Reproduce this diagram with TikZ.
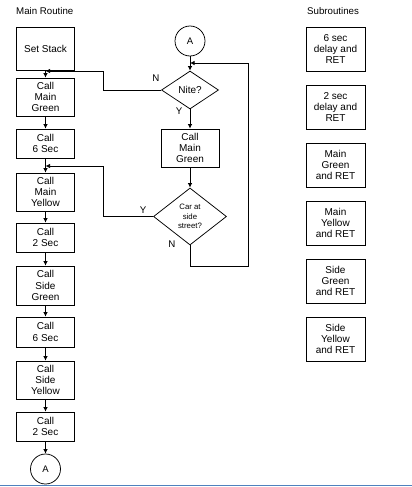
\documentclass[tikz,border=0pt]{standalone}
\usepackage{fontspec}
\setmainfont{Liberation Sans}
\usetikzlibrary{shapes.geometric,arrows.meta}
\definecolor{rule}{RGB}{79,129,189}
\begin{document}
\begin{tikzpicture}[x=1pt,y=-1pt,
  box/.style={draw,line width=0.75pt,minimum width=58pt,inner sep=0pt,align=center,font=\fontsize{10}{11.3}\selectfont},
  conn/.style={circle,draw,line width=0.75pt,minimum size=30pt,inner sep=0pt,font=\fontsize{9.5}{11}\selectfont},
  dec/.style={diamond,draw,line width=0.75pt,inner sep=0pt,align=center},
  arr/.style={line width=0.75pt,-{Latex[length=4.5pt,width=4.5pt]}},
  lbl/.style={font=\fontsize{9.7}{11}\selectfont,inner sep=0pt},
]
\useasboundingbox (0,0) rectangle (412,487);
% titles
\node[lbl,anchor=west] (t1) at (16,11) {Main Routine};
\node[lbl,anchor=west] (t2) at (307,11) {Subroutines};
% main routine column
\node[box,minimum height=43pt] (ss) at (45.5,48.5) {Set Stack};
\node[box,minimum height=38pt] (cmg) at (45.5,97) {Call\\Main\\Green};
\node[box,minimum height=29pt] (c6a) at (45.5,143.5) {Call\\6 Sec};
\node[box,minimum height=38pt] (cmy) at (45.5,192) {Call\\Main\\Yellow};
\node[box,minimum height=29pt] (c2a) at (45.5,237.5) {Call\\2 Sec};
\node[box,minimum height=39pt] (csg) at (45.5,285.5) {Call\\Side\\Green};
\node[box,minimum height=30pt] (c6b) at (45.5,332) {Call\\6 Sec};
\node[box,minimum height=38pt] (csy) at (45.5,380) {Call\\Side\\Yellow};
\node[box,minimum height=29pt] (c2b) at (45.5,426.5) {Call\\2 Sec};
\node[conn] (A1) at (45.5,469) {A};
\draw[arr] (ss) -- (cmg);
\draw[arr] (cmg) -- (c6a);
\draw[arr] (c6a) -- (cmy);
\draw[arr] (cmy) -- (c2a);
\draw[arr] (c2a) -- (csg);
\draw[arr] (csg) -- (c6b);
\draw[arr] (c6b) -- (csy);
\draw[arr] (csy) -- (c2b);
\draw[arr] (c2b) -- (A1);
% middle column
\node[conn] (A2) at (190,41) {A};
\node[dec,minimum width=57pt,minimum height=38pt,font=\fontsize{10}{11}\selectfont] (nite) at (190,90) {Nite?};
\node[box,minimum height=38pt] (cmg2) at (190,148) {Call\\Main\\Green};
\node[dec,aspect=1.3,minimum width=73pt,minimum height=57pt,font=\fontsize{7.8}{9.5}\selectfont] (car) at (190,216.5) {Car at\\side\\street?};
\coordinate (j3) at (190,63);
\draw[arr] (A2) -- (nite);
\draw[arr] (nite) -- (cmg2);
\draw[arr] (cmg2) -- (car);
\coordinate (k3) at (248,266);
\draw[arr] (car.south) |- (k3) |- (j3);
\coordinate (j1) at (45.5,71);
\coordinate (k1) at (103,71);
\draw[arr] (nite.west) -| (k1) -- (j1);
\coordinate (j2) at (45.5,166);
\coordinate (k2) at (103,166);
\draw[arr] (car.west) -| (k2) -- (j2);
\node[lbl] (n1) at (156,78) {N};
\node[lbl] (y1) at (179,111) {Y};
\node[lbl] (y2) at (143,210) {Y};
\node[lbl] (n2) at (172,244) {N};
% subroutines column
\node[box,minimum width=59pt,minimum height=44pt] (s1) at (335.5,49) {6 sec\\delay and\\RET};
\node[box,minimum width=59pt,minimum height=44pt] (s2) at (335.5,107) {2 sec\\delay and\\RET};
\node[box,minimum width=59pt,minimum height=44pt] (s3) at (335.5,165) {Main\\Green\\and RET};
\node[box,minimum width=59pt,minimum height=44pt] (s4) at (335.5,223) {Main\\Yellow\\and RET};
\node[box,minimum width=59pt,minimum height=44pt] (s5) at (335.5,281) {Side\\Green\\and RET};
\node[box,minimum width=59pt,minimum height=44pt] (s6) at (335.5,339) {Side\\Yellow\\and RET};
% bottom rule
\coordinate (r1) at (0,485.5);
\coordinate (r2) at (412,485.5);
\draw[rule,line width=1.5pt] (r1) -- (r2);
\end{tikzpicture}
\end{document}
